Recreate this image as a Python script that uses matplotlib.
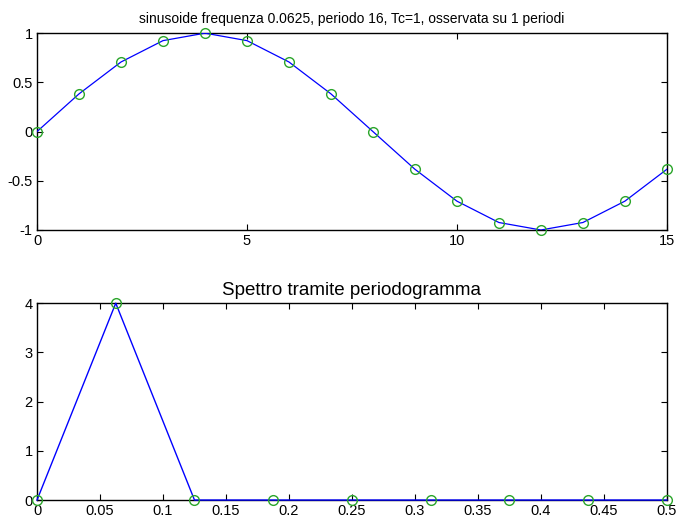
import matplotlib
matplotlib.use('Agg')
import matplotlib.pyplot as plt
from matplotlib.ticker import FormatStrFormatter, MultipleLocator

plt.rcParams['font.family'] = ['Liberation Sans', 'DejaVu Sans']
plt.rcParams['font.size'] = 10
plt.rcParams['axes.unicode_minus'] = False

# campioni della sinusoide (n = 0..15)
n = [0, 1, 2, 3, 4, 5, 6, 7, 8, 9, 10, 11, 12, 13, 14, 15]
x_n = [0.0, 0.383, 0.707, 0.924, 1.0, 0.924, 0.707, 0.383,
       0.0, -0.383, -0.707, -0.924, -1.0, -0.924, -0.707, -0.383]

# periodogramma
freq = [0.0, 0.0625, 0.125, 0.1875, 0.25, 0.3125, 0.375, 0.4375, 0.5]
spettro = [0.0, 4.0, 0.0, 0.0, 0.0, 0.0, 0.0, 0.0, 0.0]

line_color = '#0000ff'
mark_color = '#2aa52a'

fig = plt.figure(figsize=(6.78, 5.18), dpi=100)
ax1 = fig.add_axes([0.0546, 0.556, 0.929, 0.380])
ax2 = fig.add_axes([0.0546, 0.0347, 0.929, 0.380])


def matlab_style(ax):
    ax.tick_params(direction='in', length=4, width=0.8, top=True, right=True,
                   labelsize=10.5, pad=3)
    for s in ax.spines.values():
        s.set_linewidth(1.0)
    ax.xaxis.set_major_formatter(FormatStrFormatter('%g'))
    ax.yaxis.set_major_formatter(FormatStrFormatter('%g'))


ax1.plot(n, x_n, '-', color=line_color, lw=0.9, zorder=3)
ax1.plot(n, x_n, 'o', mfc='none', mec=mark_color, ms=7, mew=1.0, zorder=4,
         clip_on=False)
ax1.set_xlim(0, 15)
ax1.set_ylim(-1, 1)
ax1.xaxis.set_major_locator(MultipleLocator(5))
ax1.yaxis.set_major_locator(MultipleLocator(0.5))
matlab_style(ax1)
ax1.set_title('sinusoide frequenza 0.0625, periodo 16, Tc=1, osservata su 1 periodi',
              fontsize=10, pad=7)

ax2.plot(freq, spettro, '-', color=line_color, lw=1.0, zorder=3, clip_on=False)
ax2.plot(freq, spettro, 'o', mfc='none', mec=mark_color, ms=7, mew=1.0, zorder=4,
         clip_on=False)
ax2.set_xlim(0, 0.5)
ax2.set_ylim(0, 4)
ax2.xaxis.set_major_locator(MultipleLocator(0.05))
ax2.yaxis.set_major_locator(MultipleLocator(1))
matlab_style(ax2)
ax2.set_title('Spettro tramite periodogramma', fontsize=13.5, pad=6)

fig.savefig('out.png', dpi=100)
